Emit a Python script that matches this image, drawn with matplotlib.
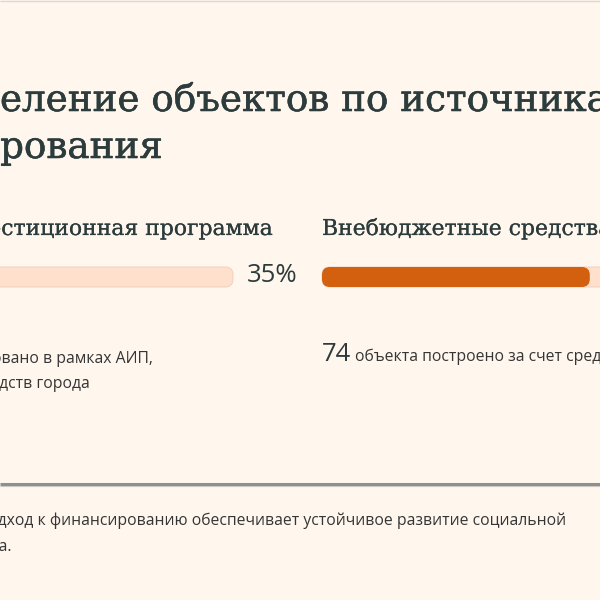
import matplotlib
matplotlib.use("Agg")
import matplotlib.pyplot as plt
from matplotlib.patches import FancyBboxPatch
import matplotlib.patheffects as pe

# ---------------- data ----------------
title_lines = ["Распределение объектов по источникам", "финансирования"]
categories = ["Адресная инвестиционная программа", "Внебюджетные средства"]
shares = [35, 65]                       # percent
counts = [40, 74]
count_texts = [["объектов реализовано в рамках АИП,", "за счет средств города"],
               ["объекта построено за счет средств инвесторов"]]
footer_lines = ["Такой сбалансированный подход к финансированию обеспечивает устойчивое развитие социальной",
                "инфраструктуры города."]

# ---------------- style ----------------
BG = "#FFF7EE"
DARK = "#2C3B3C"
BODY = "#353535"
ORANGE = "#D2600F"
TRACK = "#FFE0CC"
TRACK_EDGE = "#F2D2BE"
SERIF = ["DejaVu Serif"]
SANS = ["Open Sans", "DejaVu Sans"]

fig = plt.figure(figsize=(6, 6), dpi=100, facecolor=BG)
ax = fig.add_axes([0, 0, 1, 1])
ax.set_xlim(0, 600)
ax.set_ylim(600, 0)
ax.axis("off")
ax.set_facecolor(BG)
renderer = fig.canvas.get_renderer()


def width(s, **kw):
    t = ax.text(0, 0, s, **kw)
    w = t.get_window_extent(renderer).width
    t.remove()
    return w


def fit(s, target, family):
    return 10 * target / width(s, size=10, family=family)


title_fx = [pe.withStroke(linewidth=0.4, foreground=DARK)]
head_fx = [pe.withStroke(linewidth=0.15, foreground=DARK)]

# font sizes fitted to the visible text
title_size = fit("рования", 163, SERIF)
head_size = fit("стиционная программа", 272, SERIF)
body_size = fit("дход к финансированию обеспечивает устойчивое развитие социальной", 566, SANS)
big_size = 18.5

# top border
ax.plot([0, 600], [0.5, 0.5], color="#DDD8D2", lw=1.0, solid_capstyle="butt")

# title
full = title_lines[0]
suffix = full[full.index("еление"):]
pre = width(full, size=title_size, family=SERIF) - width(suffix, size=title_size, family=SERIF)
ax.text(-pre, 111, full, size=title_size, family=SERIF, color=DARK, va="baseline", ha="left",
        path_effects=title_fx)
ax.text(163, 158, title_lines[1], size=title_size, family=SERIF, color=DARK, va="baseline",
        ha="right", path_effects=title_fx)

# headings
ax.text(272, 235, categories[0], size=head_size, family=SERIF, color=DARK, va="baseline",
        ha="right", path_effects=head_fx)
ax.text(322, 235, categories[1], size=head_size, family=SERIF, color=DARK, va="baseline",
        ha="left", path_effects=head_fx)

# bars
track_w = 412
bar_y, bar_h = 267, 20
left_starts = [233 - track_w, 322]
for x0, sh in zip(left_starts, shares):
    ax.add_patch(FancyBboxPatch((x0, bar_y), track_w, bar_h,
                                boxstyle="round,pad=0,rounding_size=8",
                                fc=TRACK, ec=TRACK_EDGE, lw=0.8))
    ax.add_patch(FancyBboxPatch((x0, bar_y), track_w * sh / 100, bar_h,
                                boxstyle="round,pad=0,rounding_size=8",
                                fc=ORANGE, ec="none"))

ax.text(247, 282, f"{shares[0]}%", size=big_size, family=SANS, color=DARK, va="baseline", ha="left")

# left count text (right ends visible)
ax.text(153, 363, count_texts[0][0], size=body_size, family=SANS, color=BODY,
        va="baseline", ha="right")
ax.text(90, 388, count_texts[0][1], size=body_size, family=SANS, color=BODY,
        va="baseline", ha="right")
lw1 = width(count_texts[0][0], size=body_size, family=SANS)
ax.text(153 - lw1 - 6, 363, str(counts[0]), size=big_size, family=SANS, color=DARK,
        va="baseline", ha="right")

# right count text
ax.text(322, 361, str(counts[1]), size=big_size, family=SANS, color=DARK, va="baseline", ha="left")
ax.text(355, 361, count_texts[1][0], size=body_size, family=SANS, color=BODY, va="baseline", ha="left")

# divider
ax.plot([0, 600], [483.5, 483.5], color="#8E8E8E", lw=2.2, solid_capstyle="butt")
ax.plot([0, 600], [485.6, 485.6], color="#CBC8C4", lw=0.8, solid_capstyle="butt")

# footer
ax.text(566, 525, footer_lines[0], size=body_size, family=SANS, color=BODY, va="baseline", ha="right")
ax.text(12, 551, footer_lines[1], size=body_size, family=SANS, color=BODY, va="baseline", ha="right")

fig.savefig("out.png", dpi=100, facecolor=BG)
